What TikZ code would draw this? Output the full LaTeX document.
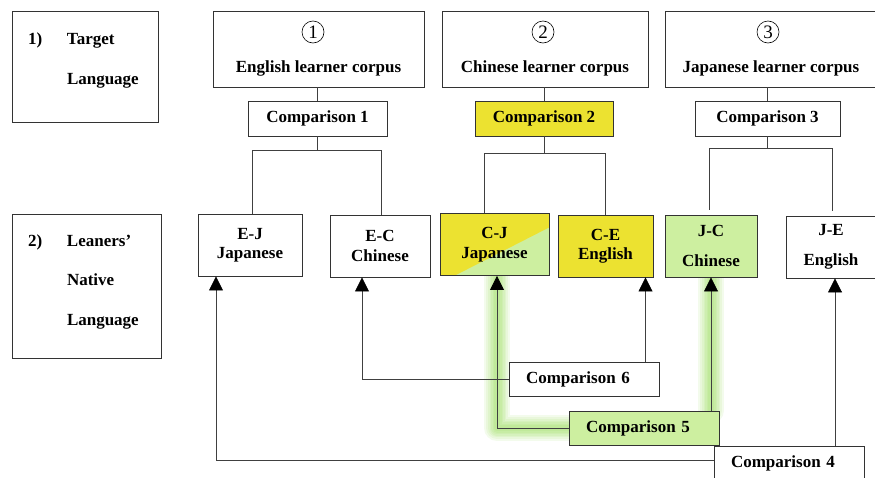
\documentclass[tikz,border=0pt]{standalone}
\usepackage{fontspec}
\setmainfont{Liberation Serif}
\usetikzlibrary{arrows.meta,positioning,backgrounds}

\definecolor{cmpyellow}{RGB}{236,226,48}
\definecolor{cmpgreen}{RGB}{205,239,160}
\definecolor{glowgreen}{RGB}{125,210,45}

\tikzset{
  box/.style={draw=black!80,line width=0.9pt,font=\fontsize{17}{19.5}\selectfont\bfseries,align=center,inner sep=0pt},
  sidebox/.style={box,align=left,text width=#1,inner xsep=16pt},
  corpus/.style={box,minimum width=#1,text height=52pt,text depth=5pt,inner ysep=9.5pt},
  numcirc/.style={circle,draw=black,line width=0.6pt,minimum size=22pt,inner sep=0pt,font=\fontsize{19}{19}\selectfont},
  cmptop/.style={box,minimum width=#1,minimum height=35pt},
  cmpbot/.style={box,align=left,text width=116pt,inner xsep=17pt,minimum height=34pt},
  lang/.style={box,minimum width=#1,minimum height=62pt},
  link/.style={draw=black!75,line width=0.8pt},
  arr/.style={link,-{Triangle[width=14pt,length=14pt,color=black]}},
  glow/.style={draw=glowgreen,line join=round,line cap=round}
}

\begin{document}
\begin{tikzpicture}[x=1pt,y=-1pt]
  \useasboundingbox (0,0) rectangle (875,477);

  % row headings
  \node[sidebox=114pt,minimum height=111pt] (target) at (85,66.5)
    {\begin{tabular}{@{}p{39pt}@{}l@{}}1) & Target\\[20pt] & Language\\[12pt]\end{tabular}};
  \node[sidebox=117pt,minimum height=144pt] (native) at (86.5,286)
    {\begin{tabular}{@{}p{39pt}@{}l@{}}2) & Leaners’\\[20pt] & Native\\[20pt] & Language\\[8pt]\end{tabular}};

  % learner corpora
  \node[corpus=211pt] (eng) at (318.5,49) {English learner corpus};
  \node[corpus=206pt] (chn) at (545,49) {Chinese learner corpus};
  \node[corpus=212pt] (jpn) at (771,49) {Japanese learner corpus};
  \node[numcirc] (num1) at (313,32) {1};
  \node[numcirc] (num2) at (543,32) {2};
  \node[numcirc] (num3) at (768,32) {3};

  \node[cmptop=139pt] (cmp1) at (317.5,118.5) {Comparison 1};
  \node[cmptop=138pt,fill=cmpyellow] (cmp2) at (544,118.5) {Comparison 2};
  \node[cmptop=145pt] (cmp3) at (767.5,118.5) {Comparison 3};

  % native languages
  \node[lang=104pt] (ej) at (250,245) {E-J\\Japanese};
  \node[lang=100pt] (ec) at (380,246) {E-C\\Chinese};
  \node[lang=109pt,path picture={
      \fill[cmpgreen] (path picture bounding box.south west) rectangle (path picture bounding box.north east);
      \fill[cmpyellow] (path picture bounding box.south west) -- (path picture bounding box.north west)
        -- (path picture bounding box.north east) -- ([yshift=-14pt]path picture bounding box.north east)
        -- ([xshift=15pt]path picture bounding box.south west) -- cycle;}]
    (cj) at (494.5,244.5) {C-J\\Japanese};
  \node[lang=95pt,fill=cmpyellow] (ce) at (605.5,246) {C-E\\English};
  \node[lang=92pt,fill=cmpgreen] (jc) at (711,246) {J-C\\[10pt]Chinese};
  \node[lang=90pt] (je) at (831,247) {J-E\\[10pt]English};

  \node[cmpbot] (cmp6) at (584,379) {Comparison 6};
  \node[cmpbot,fill=cmpgreen] (cmp5) at (644,428) {Comparison 5};
  \node[cmpbot] (cmp4) at (789,463) {Comparison 4};

  % tree lines
  \foreach \c/\m in {eng/cmp1,chn/cmp2,jpn/cmp3}
    \draw[link] (\m.north) -- (\m.north |- \c.south);
  \draw[link] (cmp1.south) -- ++(0,14) coordinate (fork1);
  \draw[link] ([xshift=2pt]ej.north) |- (fork1) -| ([xshift=1pt]ec.north);
  \draw[link] (cmp2.south) -- ++(0,17) coordinate (fork2);
  \draw[link] ([xshift=-10pt]cj.north) |- (fork2) -| (ce.north);
  \draw[link] (cmp3.south) -- ++(0,12) coordinate (fork3);
  \draw[link,shorten <=5pt,shorten >=5pt] ([xshift=-2pt]jc.north) |- (fork3) -| ([xshift=1pt]je.north);

  % glow of comparison 5
  \begin{scope}[on background layer]
    \foreach \w in {26,22,18,15,12,9,6} {
      \draw[glow,line width=\w pt,opacity=0.09] (cmp5.west) -| ([xshift=2.5pt]cj.south);
      \draw[glow,line width=\w pt,opacity=0.09] (cmp5.north -| jc.south) -- (jc.south);
    }
  \end{scope}

  % comparison arrows
  \coordinate (a6) at ([xshift=40pt]ce.south);
  \coordinate (a4) at ([xshift=4pt]je.south);
  \draw[arr] (cmp6.west) -| ([xshift=-18pt]ec.south);
  \draw[arr] (a6 |- cmp6.north) -- (a6);
  \draw[arr] (cmp5.west) -| ([xshift=2.5pt]cj.south);
  \draw[arr] (cmp5.north -| jc.south) -- (jc.south);
  \draw[arr] ([yshift=3pt]cmp4.west) -| ([xshift=-34pt]ej.south);
  \draw[arr] (a4 |- cmp4.north) -- (a4);
\end{tikzpicture}
\end{document}
